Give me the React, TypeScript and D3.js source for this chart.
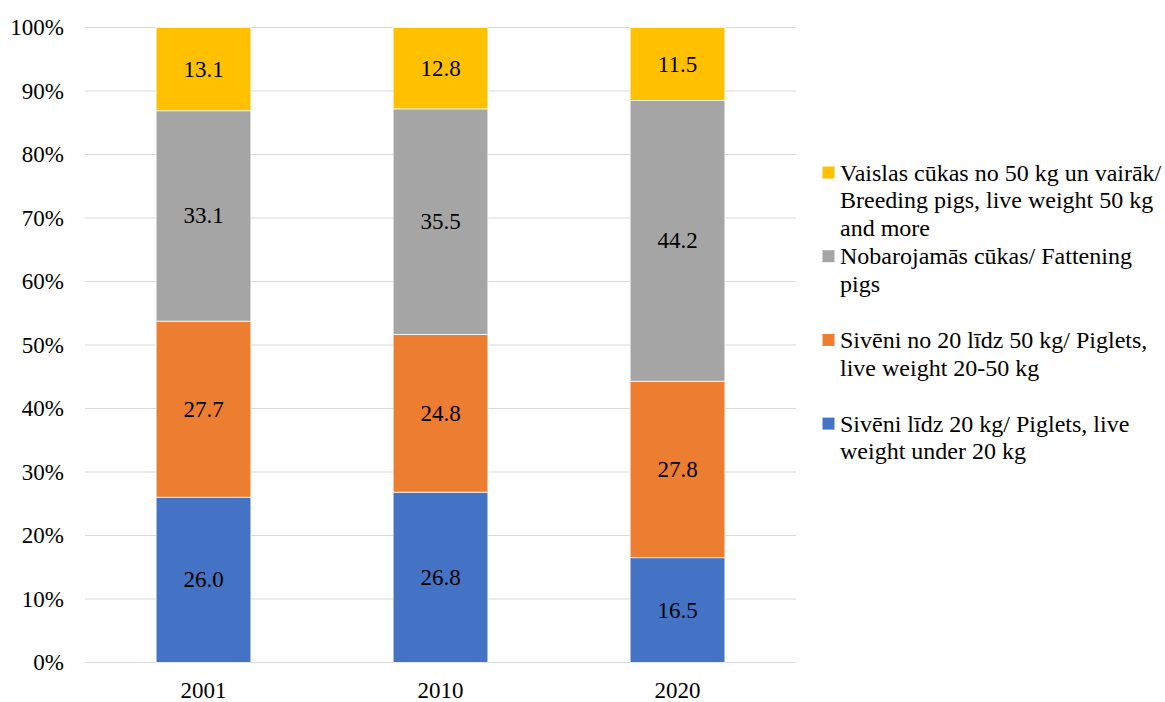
import React from "react";
import * as d3 from "d3";

const categories = ["2001", "2010", "2020"];
const seriesKeys = ["blue", "orange", "gray", "yellow"];
const seriesColors = ["#4472C4", "#ED7D31", "#A5A5A5", "#FFC000"];
const piglets20 = [26.0, 26.8, 16.5];
const piglets20to50 = [27.7, 24.8, 27.8];
const fattening = [33.1, 35.5, 44.2];
const breeding = [13.1, 12.8, 11.5];
const yTicks = [0, 0.1, 0.2, 0.3, 0.4, 0.5, 0.6, 0.7, 0.8, 0.9, 1.0];
const legendLines = [
  ["Vaislas cūkas no 50 kg un vairāk/", "Breeding pigs, live weight 50 kg", "and more"],
  ["Nobarojamās cūkas/ Fattening", "pigs"],
  ["Sivēni no 20 līdz 50 kg/ Piglets,", "live weight 20-50 kg"],
  ["Sivēni līdz 20 kg/ Piglets, live", "weight under 20 kg"],
];
const legendColors = ["#FFC000", "#A5A5A5", "#ED7D31", "#4472C4"];

const W = 1165;
const H = 702;
const FONT = "Liberation Serif";

export default function App() {
  const rows = categories.map((c, i) => ({
    cat: c,
    blue: piglets20[i],
    orange: piglets20to50[i],
    gray: fattening[i],
    yellow: breeding[i],
  }));
  const stack = d3.stack<any>().keys(seriesKeys).offset(d3.stackOffsetExpand);
  const layers = stack(rows);

  const x = d3.scaleBand().domain(categories).range([85, 796]).padding(0);
  const y = d3.scaleLinear().domain([0, 1]).range([662.5, 27.5]);
  const barW = x.bandwidth() * 0.4;
  const fmt = d3.format(".0%");
  const ts = { fontFamily: FONT, fontSize: "23px" } as React.CSSProperties;
  const ls = { fontFamily: FONT, fontSize: "24px" } as React.CSSProperties;

  return (
    <svg
      width={W}
      height={H}
      style={{ position: "absolute", left: 0, top: 0, background: "#fff" }}
    >
      <rect width={W} height={H} fill="#fff" />
      {yTicks.map((t) => (
        <g key={t}>
          <line x1={85} x2={796} y1={y(t)} y2={y(t)} stroke="#D9D9D9" strokeWidth={1.2} />
          <text x={64} y={y(t)} textAnchor="end" dominantBaseline="central" style={ts} fill="#000">
            {fmt(t)}
          </text>
        </g>
      ))}
      {layers.map((layer, li) => (
        <g key={layer.key}>
          {layer.map((d, i) => {
            const cx = (x(categories[i]) as number) + x.bandwidth() / 2;
            const y0 = y(d[0]);
            const y1 = y(d[1]);
            const val = (rows[i] as any)[layer.key] as number;
            return (
              <g key={i}>
                <rect
                  x={cx - barW / 2}
                  y={y1}
                  width={barW}
                  height={y0 - y1}
                  fill={seriesColors[li]}
                  stroke="#fff"
                  strokeWidth={0.75}
                />
                <text
                  x={cx}
                  y={(y0 + y1) / 2}
                  textAnchor="middle"
                  dominantBaseline="central"
                  style={ts}
                  fill="#000"
                >
                  {val.toFixed(1)}
                </text>
              </g>
            );
          })}
        </g>
      ))}
      {categories.map((c) => (
        <text
          key={c}
          x={(x(c) as number) + x.bandwidth() / 2}
          y={690}
          textAnchor="middle"
          dominantBaseline="central"
          style={ts}
          fill="#000"
        >
          {c}
        </text>
      ))}
      {legendLines.map((lines, i) => {
        const top = 172.5 + i * 83.7;
        return (
          <g key={i}>
            <rect x={822.5} y={top - 6} width={12} height={12} fill={legendColors[i]} />
            {lines.map((ln, j) => (
              <text key={j} x={840} y={top + j * 27.6} dominantBaseline="central" style={ls} fill="#000">
                {ln}
              </text>
            ))}
          </g>
        );
      })}
    </svg>
  );
}
